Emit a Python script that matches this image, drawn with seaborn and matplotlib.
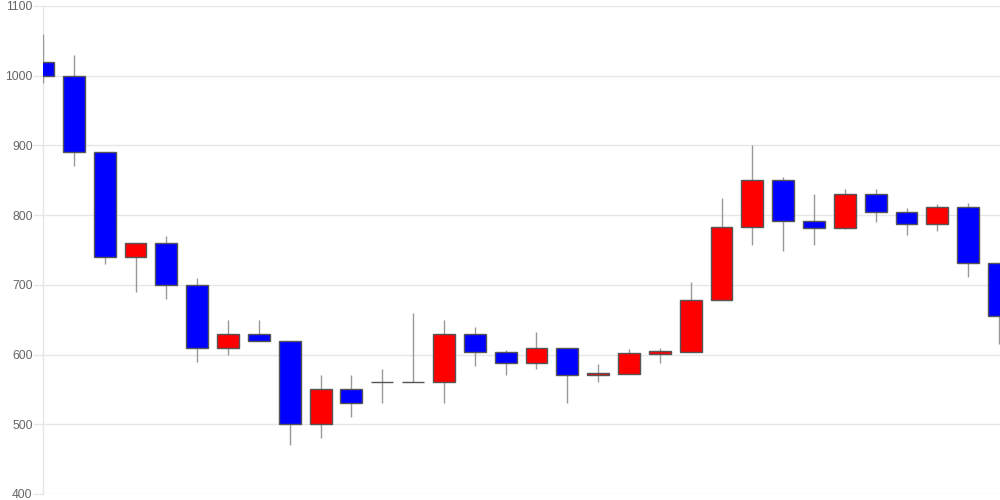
import matplotlib
matplotlib.use('Agg')
import matplotlib.pyplot as plt
import seaborn as sns
import numpy as np
import pandas as pd

# OHLC values, one entry per candle
opens = [1020, 1000, 890, 740, 760, 700, 610, 630, 620, 500, 550, 560, 560, 560, 630, 603,
         588, 610, 570, 572, 601, 604, 678, 783, 850, 791, 782, 830, 804, 787, 811, 731]
highs = [1060, 1030, 890, 760, 770, 710, 650, 650, 620, 570, 570, 580, 660, 650, 640, 607,
         632, 610, 586, 608, 610, 704, 824, 900, 855, 830, 837, 838, 810, 816, 817, 731]
lows = [990, 870, 730, 690, 680, 590, 600, 620, 470, 480, 510, 530, 560, 530, 583, 570,
        579, 531, 560, 572, 588, 604, 678, 757, 748, 757, 780, 790, 772, 777, 711, 615]
closes = [1000, 890, 740, 760, 700, 610, 630, 620, 500, 550, 530, 560, 560, 630, 603, 588,
          610, 570, 573, 602, 605, 678, 783, 850, 791, 782, 830, 804, 787, 811, 731, 655]
y_ticks = [400, 500, 600, 700, 800, 900, 1000, 1100]

df = pd.DataFrame({'open': opens, 'high': highs, 'low': lows, 'close': closes})
df['idx'] = np.arange(len(df))
df['up'] = df['close'] > df['open']

sns.set_theme(style='white')
plt.rcParams['font.family'] = ['Liberation Sans', 'DejaVu Sans']

fig = plt.figure(figsize=(10, 5), dpi=100)
ax = fig.add_axes([0.043, 0.012, 0.957, 0.976])

# wicks (drawn above the left spine so the first one shows)
ax.vlines(df['idx'], df['low'], df['high'], color='#999999', linewidth=1, zorder=2.7)

# bodies
colors = np.where(df['up'], '#ff0000', '#0000ff')
bottom = np.minimum(df['open'], df['close'])
height = np.abs(df['close'] - df['open'])
ax.bar(df['idx'], height, bottom=bottom, width=0.71, color=colors,
       edgecolor='#555555', linewidth=1, zorder=3)

ax.set_xlim(0, len(df) - 1 + 0.03)
ax.set_ylim(400, 1100)
ax.set_yticks(y_ticks)
ax.set_xticks([])
ax.yaxis.grid(True, color='#e6e6e6', linewidth=1)
ax.set_axisbelow(True)

for side in ['top', 'right', 'bottom']:
    ax.spines[side].set_visible(False)
ax.spines['left'].set_color('#e6e6e6')
ax.spines['left'].set_linewidth(1)

ax.tick_params(axis='y', labelsize=8.7, labelcolor='#666666', color='#e6e6e6',
               length=7.5, width=1, pad=0, left=True)

fig.savefig('out.png', dpi=100)
